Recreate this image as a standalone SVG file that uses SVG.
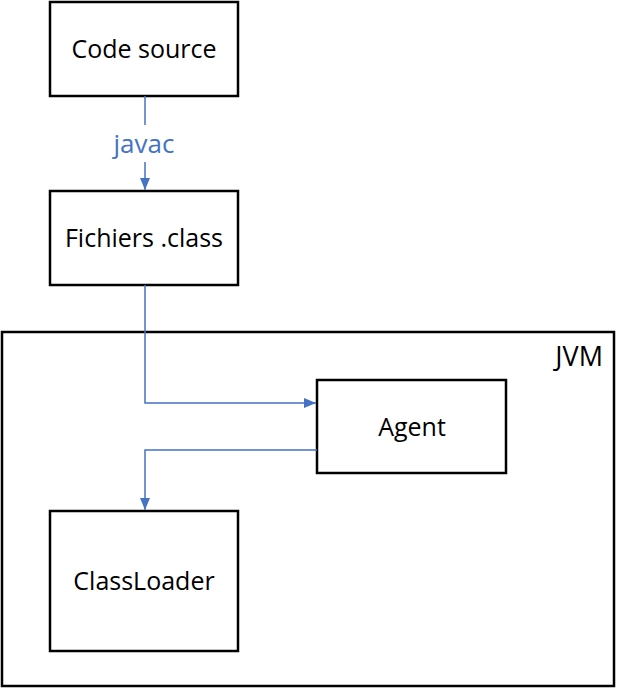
<svg xmlns="http://www.w3.org/2000/svg" width="618" height="688" viewBox="0 0 618 688">
<style>
.box{fill:#fff;stroke:#000;stroke-width:2.5}
.t{font-family:"Open Sans","Noto Sans",sans-serif;font-size:25px;fill:#000;text-anchor:middle}
.c{fill:none;stroke:#4472C4;stroke-width:1.5}
.lbl{font-family:"Open Sans","Noto Sans",sans-serif;font-size:26px;fill:#4472C4;text-anchor:middle}
</style>
<defs>
<marker id="ah" markerWidth="12" markerHeight="10" refX="12" refY="5" orient="auto" markerUnits="userSpaceOnUse">
<path d="M0,0 L12,5 L0,10 Z" fill="#4472C4"/>
</marker>
</defs>
<g id="jvm"><rect class="box" x="2" y="332" width="612" height="354"/><text class="t" x="603" y="366" style="text-anchor:end;font-size:27px">JVM</text></g>
<g id="code-source"><rect class="box" x="50" y="2" width="188" height="94"/><text class="t" x="144" y="58">Code source</text></g>
<g id="fichiers"><rect class="box" x="50" y="191" width="188" height="94"/><text class="t" x="144" y="247">Fichiers .class</text></g>
<g id="agent"><rect class="box" x="317" y="380" width="189" height="93"/><text class="t" x="412" y="436">Agent</text></g>
<g id="classloader"><rect class="box" x="50" y="511" width="188" height="140"/><text class="t" x="144" y="590">ClassLoader</text></g>
<g id="connectors">
<path class="c" d="M145,96 V125"/>
<path class="c" d="M145,162 V190" marker-end="url(#ah)"/>
<text class="lbl" x="144" y="153">javac</text>
<path class="c" d="M145,285 V403 H316" marker-end="url(#ah)"/>
<path class="c" d="M317,450 H145 V510" marker-end="url(#ah)"/>
</g>
</svg>
